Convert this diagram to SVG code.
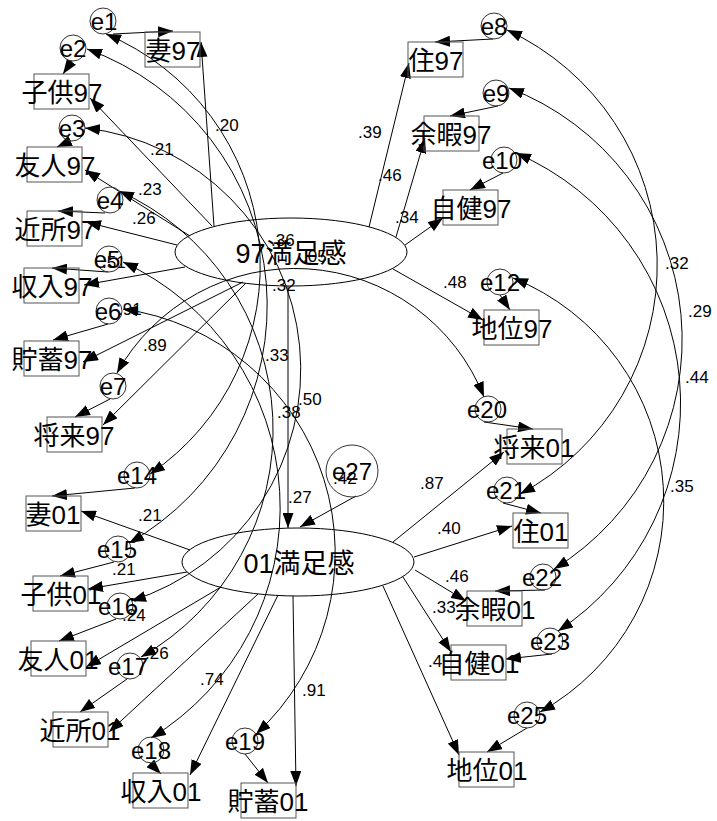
<svg xmlns="http://www.w3.org/2000/svg" width="717" height="821" viewBox="0 0 717 821">
<style>
.c{fill:none;stroke:#000;stroke-width:1}
.a{marker-end:url(#ah)}
.d{marker-start:url(#ah);marker-end:url(#ah)}
.box{fill:none;stroke:#555;stroke-width:1}
.err{fill:none;stroke:#333;stroke-width:1}
.lat{fill:none;stroke:#000;stroke-width:1}
text{font-family:'Liberation Sans','Noto Sans CJK JP',sans-serif;fill:#000}
.n{font-size:26px;text-anchor:middle}
.e{font-size:24px;text-anchor:middle}
.l{font-size:27px;text-anchor:middle}
.k{font-size:17px}
</style>
<defs>
<marker id="ah" viewBox="0 0 15 11" refX="15" refY="5.5" markerWidth="15" markerHeight="11" markerUnits="userSpaceOnUse" orient="auto-start-reverse"><path d="M0,0 L15,5.5 L0,11 z" fill="#000"/></marker>
</defs>
<g id="connectors">
<path class="c a" d="M214,226 L201,42"/>
<path class="c a" d="M212,226 L90,98"/>
<path class="c a" d="M190,236 L85,170"/>
<path class="c a" d="M177,245 L86,222"/>
<path class="c a" d="M185,267 L84,285"/>
<path class="c a" d="M243,282 L83,362"/>
<path class="c a" d="M246,283 L103,425"/>
<path class="c a" d="M369,227 L409,63"/>
<path class="c a" d="M396,237 L425,138"/>
<path class="c a" d="M405,245 L443,218"/>
<path class="c a" d="M393,269 L483,320"/>
<path class="c a" d="M288,286 L288,528"/>
<path class="c a" d="M356,496 L300,527"/>
<path class="c a" d="M190,550 L81,511"/>
<path class="c a" d="M187,572 L88,589"/>
<path class="c a" d="M221,587 L86,667"/>
<path class="c a" d="M258,594 L109,732"/>
<path class="c a" d="M278,595 L190,775"/>
<path class="c a" d="M293,596 L296,786"/>
<path class="c a" d="M393,542 L504,452"/>
<path class="c a" d="M414,557 L512,526"/>
<path class="c a" d="M415,570 L466,601"/>
<path class="c a" d="M403,577 L451,652"/>
<path class="c a" d="M383,586 L459,755"/>
<path class="c a" d="M113,34 L173,31"/>
<path class="c a" d="M72,61 L63,74"/>
<path class="c a" d="M70,141 L57,147"/>
<path class="c a" d="M105,213 L58,211"/>
<path class="c a" d="M108,272 L52,268"/>
<path class="c a" d="M108,324 L53,340"/>
<path class="c a" d="M110,399 L75,417"/>
<path class="c a" d="M135,488 L52,496"/>
<path class="c a" d="M114,562 L60,576"/>
<path class="c a" d="M116,619 L59,641"/>
<path class="c a" d="M127,679 L80,712"/>
<path class="c a" d="M149,762 L161,774"/>
<path class="c a" d="M245,754 L268,783"/>
<path class="c a" d="M493,39 L435,42"/>
<path class="c a" d="M498,106 L450,116"/>
<path class="c a" d="M503,173 L470,190"/>
<path class="c a" d="M500,295 L510,310"/>
<path class="c a" d="M484,422 L533,429"/>
<path class="c a" d="M503,503 L541,513"/>
<path class="c a" d="M545,590 L495,591"/>
<path class="c a" d="M552,654 L506,659"/>
<path class="c a" d="M527,728 L487,752"/>
<path class="c d" d="M106,34 A251.5,251.5 0 0 1 150,474"/>
<path class="c d" d="M87,49 A272.9,272.9 0 0 1 129,543"/>
<path class="c d" d="M85,128 A242.9,242.9 0 0 1 131,601"/>
<path class="c d" d="M119,191 A261.8,261.8 0 0 1 141,657"/>
<path class="c d" d="M123,262 A270.3,270.3 0 0 1 151,738"/>
<path class="c d" d="M123,309 A246.4,246.4 0 0 1 256,734"/>
<path class="c d" d="M117,373 A203.5,203.5 0 0 1 484,397"/>
<path class="c d" d="M507,30 A259.3,259.3 0 0 1 520,494"/>
<path class="c d" d="M509,88 A269.4,269.4 0 0 1 554,569"/>
<path class="c d" d="M516,153 A272.7,272.7 0 0 1 558,631"/>
<path class="c d" d="M513,278 A241,241 0 0 1 540,712"/>
</g>
<g id="n97">
<ellipse class="lat" cx="291" cy="252" rx="116" ry="34"/>
<text class="l" x="291" y="263">97満足感</text>
</g>
<g id="n01">
<ellipse class="lat" cx="298" cy="562" rx="116" ry="34"/>
<text class="l" x="299" y="573">01満足感</text>
</g>
<g id="tsuma97"><rect class="box" x="145" y="32" width="55" height="35"/><text class="n" x="173" y="60">妻97</text></g>
<g id="kodomo97"><rect class="box" x="34" y="74" width="55" height="35"/><text class="n" x="62" y="102">子供97</text></g>
<g id="yujin97"><rect class="box" x="27" y="147" width="55" height="35"/><text class="n" x="55" y="175">友人97</text></g>
<g id="kinjo97"><rect class="box" x="27" y="211" width="55" height="35"/><text class="n" x="55" y="239">近所97</text></g>
<g id="shunyu97"><rect class="box" x="24" y="268" width="55" height="35"/><text class="n" x="52" y="296">収入97</text></g>
<g id="chochiku97"><rect class="box" x="24" y="341" width="55" height="35"/><text class="n" x="52" y="369">貯蓄97</text></g>
<g id="shorai97"><rect class="box" x="47" y="417" width="55" height="35"/><text class="n" x="74" y="445">将来97</text></g>
<g id="tsuma01"><rect class="box" x="26" y="496" width="55" height="35"/><text class="n" x="53" y="524">妻01</text></g>
<g id="kodomo01"><rect class="box" x="33" y="576" width="55" height="35"/><text class="n" x="61" y="604">子供01</text></g>
<g id="yujin01"><rect class="box" x="31" y="641" width="55" height="35"/><text class="n" x="58" y="669">友人01</text></g>
<g id="kinjo01"><rect class="box" x="53" y="712" width="55" height="35"/><text class="n" x="80" y="740">近所01</text></g>
<g id="shunyu01"><rect class="box" x="133" y="773" width="55" height="35"/><text class="n" x="161" y="801">収入01</text></g>
<g id="chochiku01"><rect class="box" x="241" y="783" width="55" height="35"/><text class="n" x="268" y="811">貯蓄01</text></g>
<g id="ju97"><rect class="box" x="408" y="42" width="55" height="35"/><text class="n" x="436" y="70">住97</text></g>
<g id="yoka97"><rect class="box" x="424" y="116" width="55" height="35"/><text class="n" x="451" y="144">余暇97</text></g>
<g id="jiken97"><rect class="box" x="443" y="190" width="55" height="35"/><text class="n" x="471" y="218">自健97</text></g>
<g id="chii97"><rect class="box" x="484" y="310" width="55" height="35"/><text class="n" x="512" y="338">地位97</text></g>
<g id="shorai01"><rect class="box" x="507" y="429" width="55" height="35"/><text class="n" x="534" y="457">将来01</text></g>
<g id="ju01"><rect class="box" x="513" y="513" width="55" height="35"/><text class="n" x="541" y="541">住01</text></g>
<g id="yoka01"><rect class="box" x="467" y="591" width="55" height="35"/><text class="n" x="495" y="619">余暇01</text></g>
<g id="jiken01"><rect class="box" x="451" y="645" width="55" height="35"/><text class="n" x="479" y="673">自健01</text></g>
<g id="chii01"><rect class="box" x="459" y="752" width="55" height="35"/><text class="n" x="487" y="780">地位01</text></g>
<g id="e1"><circle class="err" cx="103" cy="21" r="13"/><text class="e" x="104" y="30">e1</text></g>
<g id="e2"><circle class="err" cx="73" cy="48" r="13"/><text class="e" x="73" y="57">e2</text></g>
<g id="e3"><circle class="err" cx="72" cy="128" r="13"/><text class="e" x="72" y="137">e3</text></g>
<g id="e4"><circle class="err" cx="110" cy="200" r="13"/><text class="e" x="110" y="209">e4</text></g>
<g id="e5"><circle class="err" cx="109" cy="259" r="13"/><text class="e" x="107" y="268">e5</text></g>
<g id="e6"><circle class="err" cx="109" cy="311" r="13"/><text class="e" x="108" y="320">e6</text></g>
<g id="e7"><circle class="err" cx="113" cy="386" r="13"/><text class="e" x="113" y="395">e7</text></g>
<g id="e14"><circle class="err" cx="137" cy="475" r="13"/><text class="e" x="137" y="484">e14</text></g>
<g id="e15"><circle class="err" cx="118" cy="549" r="13"/><text class="e" x="117" y="558">e15</text></g>
<g id="e16"><circle class="err" cx="120" cy="606" r="13"/><text class="e" x="118" y="615">e16</text></g>
<g id="e17"><circle class="err" cx="130" cy="666" r="13"/><text class="e" x="128" y="675">e17</text></g>
<g id="e18"><circle class="err" cx="151" cy="750" r="13"/><text class="e" x="151" y="759">e18</text></g>
<g id="e19"><circle class="err" cx="245" cy="741" r="13"/><text class="e" x="245" y="750">e19</text></g>
<g id="e8"><circle class="err" cx="494" cy="26" r="13"/><text class="e" x="494" y="35">e8</text></g>
<g id="e9"><circle class="err" cx="496" cy="93" r="13"/><text class="e" x="496" y="102">e9</text></g>
<g id="e10"><circle class="err" cx="504" cy="160" r="13"/><text class="e" x="502" y="169">e10</text></g>
<g id="e12"><circle class="err" cx="500" cy="282" r="13"/><text class="e" x="500" y="291">e12</text></g>
<g id="e20"><circle class="err" cx="488" cy="409" r="13"/><text class="e" x="487" y="418">e20</text></g>
<g id="e21"><circle class="err" cx="507" cy="490" r="13"/><text class="e" x="506" y="499">e21</text></g>
<g id="e22"><circle class="err" cx="543" cy="577" r="13"/><text class="e" x="542" y="586">e22</text></g>
<g id="e23"><circle class="err" cx="550" cy="641" r="13"/><text class="e" x="550" y="650">e23</text></g>
<g id="e25"><circle class="err" cx="527" cy="715" r="13"/><text class="e" x="527" y="724">e25</text></g>
<g id="e27"><circle class="err" cx="352" cy="471" r="26"/><text class="e" x="352" y="480">e27</text></g>
<g id="labels">
<text class="k" x="215" y="131">.20</text>
<text class="k" x="150" y="155">.21</text>
<text class="k" x="138" y="195">.23</text>
<text class="k" x="132" y="224">.26</text>
<text class="k" x="271" y="246">.36</text>
<text class="k" x="303" y="262">.05</text>
<text class="k" x="102" y="268">.51</text>
<text class="k" x="118" y="315">.91</text>
<text class="k" x="272" y="291">.32</text>
<text class="k" x="143" y="351">.89</text>
<text class="k" x="265" y="361">.33</text>
<text class="k" x="298" y="405">.50</text>
<text class="k" x="277" y="418">.38</text>
<text class="k" x="288" y="503">.27</text>
<text class="k" x="333" y="484">.42</text>
<text class="k" x="420" y="489">.87</text>
<text class="k" x="437" y="534">.40</text>
<text class="k" x="445" y="582">.46</text>
<text class="k" x="432" y="613">.33</text>
<text class="k" x="428" y="667">.4</text>
<text class="k" x="138" y="521">.21</text>
<text class="k" x="112" y="575">.21</text>
<text class="k" x="122" y="621">.24</text>
<text class="k" x="145" y="659">.26</text>
<text class="k" x="200" y="685">.74</text>
<text class="k" x="302" y="696">.91</text>
<text class="k" x="358" y="138">.39</text>
<text class="k" x="378" y="181">.46</text>
<text class="k" x="395" y="223">.34</text>
<text class="k" x="443" y="288">.48</text>
<text class="k" x="665" y="269">.32</text>
<text class="k" x="688" y="317">.29</text>
<text class="k" x="685" y="383">.44</text>
<text class="k" x="670" y="492">.35</text>
</g>
</svg>
